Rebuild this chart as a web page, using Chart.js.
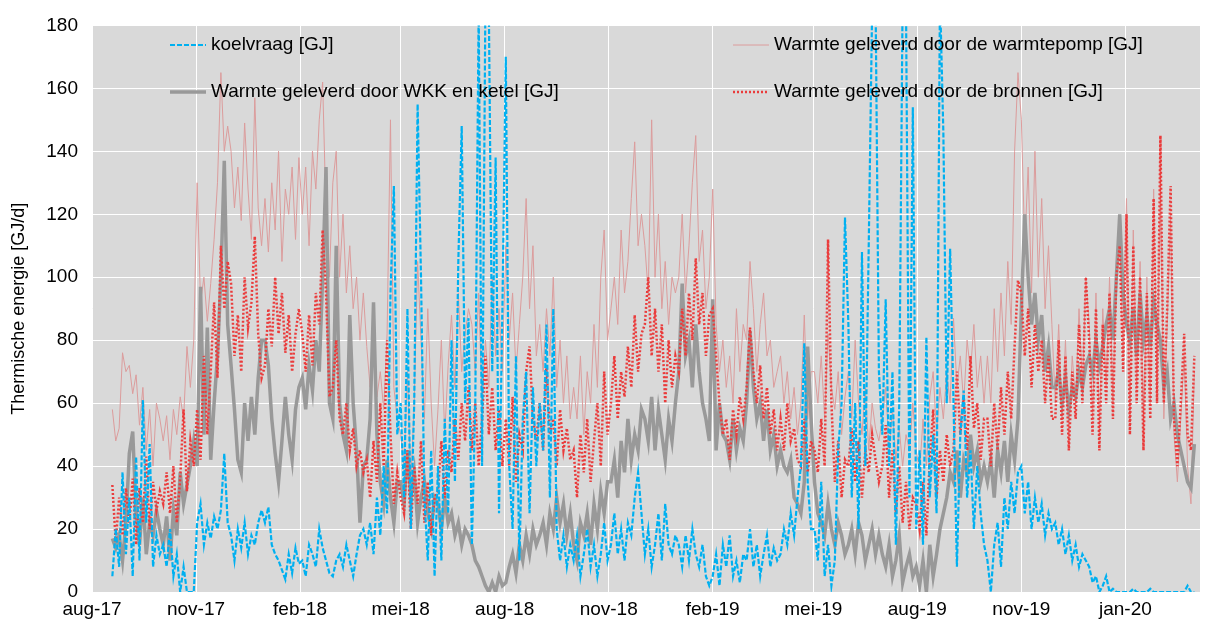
<!DOCTYPE html>
<html>
<head>
<meta charset="utf-8">
<script src="https://cdn.jsdelivr.net/npm/chart.js@4.4.1/dist/chart.umd.min.js"></script>
<style>
  html, body { margin: 0; padding: 0; background: #fff; }
  #wrap { width: 1206px; height: 622px; }
</style>
</head>
<body>
<div id="wrap"><canvas id="chart" width="1206" height="622"></canvas></div>
<script>
const startDay = 18;
const stepDays = 3;

const tickDays = [0, 92, 184, 273, 365, 457, 549, 638, 730, 822, 914];
const tickLabels = ['aug-17', 'nov-17', 'feb-18', 'mei-18', 'aug-18', 'nov-18', 'feb-19', 'mei-19', 'aug-19', 'nov-19', 'jan-20'];

const seriesNames = [
  'koelvraag [GJ]',
  'Warmte geleverd door de bronnen [GJ]',
  'Warmte geleverd door WKK en ketel [GJ]',
  'Warmte geleverd door de warmtepomp [GJ]'
];

// one row per month
const koelvraag = [
  5, 20, 8, 38, 12,
  30, 5, 43, 10, 61, 22, 47, 8, 18, 12,
  15, 8, 20, 5, 12, 0, 8, 0, 0, 0,
  22, 28, 15, 22, 17, 24, 20, 26, 44, 22,
  18, 10, 20, 14, 22, 12, 18, 15, 22, 26,
  22, 27, 15, 12, 10, 7, 4, 12, 6, 14, 9,
  10, 5, 15, 12, 8, 20, 14, 10, 6,
  5, 10, 12, 8, 15, 10, 5, 12, 18, 20,
  15, 22, 12, 30, 18, 40, 25, 95, 129, 50,
  60, 30, 90, 20, 60, 155, 100, 30, 10, 45, 5,
  40, 10, 55, 25, 80, 35, 105, 148, 60, 87,
  15, 60, 185, 40, 190, 185, 70, 138, 25, 90,
  170, 40, 20, 75, 10, 55, 70, 25, 65, 40,
  60, 45, 85, 30, 90, 20, 10, 18, 8, 15,
  10, 18, 5, 12, 20, 8, 15, 5, 12, 22, 10,
  15, 25, 12, 20, 10, 22, 18, 30, 38, 25,
  12, 20, 8, 15, 25, 10, 28, 15, 12, 18,
  15, 8, 18, 10, 20, 12, 8, 15, 5, 2,
  5, 12, 2, 15, 8, 18, 5, 10, 3, 12,
  10, 20, 8, 15, 5, 12, 18, 8, 14, 10,
  12, 20, 15, 25, 18, 30, 40, 79, 35, 20,
  20, 10, 35, 5, 15, 2, 10, 45, 60, 119,
  85, 30, 60, 20, 108, 40, 110, 185, 190, 70,
  50, 93, 40, 70, 15, 60, 190, 185, 30, 154,
  20, 45, 15, 81, 30, 50, 25, 190, 146, 60, 109,
  60, 8, 50, 64, 30, 45, 20, 40, 25, 15,
  10, 0, 15, 22, 8, 30, 20, 35, 25, 38,
  40, 25, 35, 20, 30, 22, 28, 18, 25, 20,
  22, 15, 20, 12, 18, 10, 15, 8, 12, 10,
  8, 3, 5, 0, 2, 5, 0, 1, 0, 0, 0,
  0, 0, 1, 0, 0, 0, 0, 1, 0, 0,
  0, 0, 0, 0, 0, 0, 0, 0, 2, 0, 0
];

const bronnen = [
  34, 16, 30, 18, 33,
  22, 36, 15, 33, 22, 43, 20, 35, 26, 32,
  28, 38, 25, 40, 22, 36, 58, 32, 48, 40,
  58, 42, 75, 50, 70, 92, 68, 110, 90, 105,
  98, 75, 88, 70, 100, 84, 92, 113, 82, 68,
  72, 90, 78, 100, 82, 95, 76, 88, 70, 82, 90,
  82, 70, 88, 72, 95, 85, 115, 95, 62,
  65, 80, 55, 50, 60, 45, 52, 40, 45, 38,
  42, 30, 48, 35, 60, 40, 80, 50, 28, 38,
  30, 25, 45, 20, 40, 28, 48, 22, 35, 18, 30,
  32, 48, 30, 45, 38, 55, 42, 60, 48, 65,
  45, 60, 40, 55, 75, 50, 65, 45, 58, 40,
  55, 40, 62, 35, 50, 45, 70, 78, 55, 48,
  60, 45, 72, 50, 55, 40, 58, 45, 52, 42,
  45, 30, 50, 38, 55, 35, 48, 60, 40, 70, 50,
  60, 75, 55, 70, 62, 78, 65, 88, 70, 82,
  85, 100, 75, 90, 70, 85, 60, 80, 65, 75,
  70, 90, 75, 95, 80, 106, 85, 95, 75, 88,
  90, 75, 60, 50, 55, 42, 58, 50, 62, 55,
  65, 84, 70, 60, 72, 55, 65, 50, 58, 45,
  55, 45, 60, 48, 52, 42, 40, 55, 38, 48,
  45, 38, 55, 40, 112, 60, 35, 48, 30, 42,
  40, 52, 35, 48, 30, 45, 38, 50, 42, 35,
  40, 53, 30, 45, 25, 40, 22, 35, 20, 30,
  28, 20, 35, 18, 42, 58, 30, 45, 35, 50, 40,
  45, 70, 50, 62, 45, 75, 52, 60, 42, 55,
  55, 40, 60, 45, 65, 50, 70, 55, 78, 99,
  95, 75, 90, 65, 85, 70, 80, 60, 75, 55,
  55, 80, 50, 75, 45, 70, 55, 85, 60, 100,
  80, 50, 90, 45, 85, 60, 95, 55, 100, 110, 70,
  120, 50, 110, 60, 100, 45, 95, 55, 125, 60,
  145, 60, 90, 129, 55, 40, 60, 82, 50, 45, 75
];

const wkkKetel = [
  17, 14, 18, 10, 22,
  44, 51, 25, 15, 30, 12, 22, 18, 26, 20,
  15, 24, 10, 26, 18, 38, 28, 34, 40, 48,
  40, 97, 50, 84, 42, 60, 75, 100, 137, 85,
  72, 58, 42, 38, 60, 48, 62, 50, 68, 80,
  80, 72, 55, 44, 35, 48, 62, 50, 42, 58, 65,
  68, 58, 72, 64, 80, 70, 100, 135, 60,
  55, 110, 60, 50, 45, 88, 60, 45, 22, 40,
  42, 55, 92, 50, 35, 28, 42, 30, 22, 35,
  35, 28, 45, 30, 38, 22, 30, 35, 25, 20, 30,
  28, 20, 30, 22, 25, 18, 22, 15, 20, 18,
  15, 10, 8, 5, 2, 0, 3, 0, 5, 2,
  3, 8, 12, 6, 15, 10, 18, 12, 20, 15,
  18, 22, 15, 25, 20, 30, 22, 28, 18, 25,
  15, 10, 22, 18, 25, 15, 28, 20, 32, 25, 35,
  35, 42, 30, 48, 38, 55, 42, 50, 45, 58,
  55, 48, 62, 45, 58, 50, 42, 55, 48, 60,
  70, 98, 75, 80, 65, 85, 70, 60, 55, 48,
  93, 45, 60, 50, 48, 42, 55, 45, 52, 48,
  60, 83, 65, 55, 60, 48, 58, 45, 50, 40,
  45, 40, 38, 42, 30, 28, 25, 35, 78, 55,
  35, 25, 22, 18, 28, 20, 15, 22, 18, 12,
  15, 20, 12, 22, 18, 10, 15, 20, 12, 18,
  12, 8, 15, 5, 10, 18, 3, 8, 12, 5,
  8, 2, 10, 0, 15, 5, 12, 20, 25, 30, 38,
  35, 45, 30, 42, 38, 50, 40, 45, 35, 40,
  35, 42, 30, 45, 38, 48, 35, 50, 42, 55,
  90, 120, 100, 85, 95, 80, 88, 70, 78, 65,
  65, 70, 60, 68, 58, 65, 62, 70, 65, 72,
  75, 70, 80, 72, 78, 85, 90, 80, 100, 120, 95,
  85, 80, 90, 75, 95, 80, 88, 78, 92, 85,
  80, 65, 70, 55, 60, 50, 45, 40, 35, 33, 47
];

const warmtepomp = [
  58, 48, 52, 76, 70,
  72, 63, 69, 53, 65, 45, 58, 40, 60, 55,
  48, 56, 42, 58, 50, 62, 55, 78, 65, 80,
  130, 92, 100, 86, 98, 112, 130, 165, 140, 148,
  140, 122, 135, 118, 149, 128, 112, 157, 122, 110,
  125, 108, 130, 115, 140, 105, 128, 120, 135, 112, 138,
  120, 135, 110, 140, 128, 150, 162, 120, 100,
  130, 140, 100, 120, 95, 110, 90, 100, 80, 95,
  78, 65, 88, 62, 70, 58, 82, 150, 65, 55,
  50, 40, 70, 35, 60, 105, 80, 55, 90, 60, 40,
  58, 80, 50, 72, 88, 65, 95, 70, 82, 90,
  85, 70, 95, 60, 80, 65, 100, 75, 90, 70,
  110, 80, 95, 70, 85, 100, 125, 90, 110, 75,
  85, 70, 90, 75, 100, 65, 80, 60, 75, 55,
  65, 55, 75, 50, 70, 60, 85, 65, 100, 115, 80,
  90, 100, 85, 115, 95, 105, 125, 143, 110, 120,
  110, 95, 150, 100, 120, 90, 105, 85, 100, 95,
  100, 120, 95, 110, 130, 145, 105, 115, 90, 100,
  128, 85, 70, 80, 65, 75, 60, 90, 70, 85,
  80, 105, 90, 70, 85, 95, 75, 80, 65, 70,
  75, 60, 70, 55, 65, 50, 60, 88, 55, 70,
  70, 60, 75, 55, 82, 65, 58, 70, 50, 62,
  70, 55, 80, 60, 50, 65, 45, 60, 52, 48,
  55, 65, 45, 58, 42, 52, 40, 50, 45, 60,
  45, 38, 55, 40, 62, 70, 50, 65, 55, 70, 60,
  87, 65, 75, 60, 80, 70, 85, 65, 75, 60,
  75, 60, 90, 70, 95, 75, 105, 85, 140, 165,
  150, 110, 135, 95, 140, 100, 125, 90, 110, 85,
  60, 85, 55, 80, 50, 75, 60, 90, 65, 100,
  85, 55, 95, 50, 90, 65, 100, 60, 105, 115, 75,
  125, 55, 115, 65, 105, 50, 100, 60, 128, 65,
  135, 55, 85, 120, 50, 35, 55, 75, 40, 28, 70
];

const toPoints = arr => arr.map((v, i) => ({ x: startDay + i * stepDays, y: v }));

const fontFamily = '"Liberation Sans", Arial, sans-serif';

const plotBg = {
  id: 'plotBg',
  beforeDraw(chart) {
    const { ctx, chartArea: a } = chart;
    ctx.save();
    ctx.fillStyle = '#d9d9d9';
    ctx.fillRect(a.left, a.top, a.right - a.left, a.bottom - a.top);
    ctx.restore();
  }
};

// legend sits inside the plot, two columns
const insideLegend = {
  id: 'insideLegend',
  afterDraw(chart) {
    const ctx = chart.ctx;
    const spots = [
      { ds: 0, x: 170, y: 45 },
      { ds: 3, x: 733, y: 45 },
      { ds: 2, x: 170, y: 92 },
      { ds: 1, x: 733, y: 92 }
    ];
    ctx.save();
    ctx.font = '19px ' + fontFamily;
    ctx.textBaseline = 'middle';
    spots.forEach(s => {
      const d = chart.data.datasets[s.ds];
      ctx.beginPath();
      ctx.strokeStyle = d.borderColor;
      ctx.lineWidth = d.borderWidth;
      ctx.setLineDash(d.borderDash || []);
      ctx.moveTo(s.x, s.y);
      ctx.lineTo(s.x + 36, s.y);
      ctx.stroke();
      ctx.setLineDash([]);
      ctx.fillStyle = '#000';
      ctx.fillText(d.label, s.x + 41, s.y);
    });
    ctx.restore();
  }
};

new Chart(document.getElementById('chart'), {
  type: 'line',
  data: {
    datasets: [
      { label: seriesNames[0], data: toPoints(koelvraag), borderColor: '#00b0f0', borderWidth: 2.2, borderDash: [5, 2] },
      { label: seriesNames[1], data: toPoints(bronnen), borderColor: '#ea3c3c', borderWidth: 2.5, borderDash: [2, 2] },
      { label: seriesNames[2], data: toPoints(wkkKetel), borderColor: '#999999', borderWidth: 3.5 },
      { label: seriesNames[3], data: toPoints(warmtepomp), borderColor: '#dc9c9c', borderWidth: 1 }
    ]
  },
  options: {
    responsive: false,
    devicePixelRatio: 1,
    animation: false,
    clip: 0,
    elements: { point: { radius: 0 }, line: { tension: 0 } },
    layout: { padding: { top: 22, right: 6, left: 0, bottom: 0 } },
    plugins: { legend: { display: false }, tooltip: { enabled: false } },
    scales: {
      x: {
        type: 'linear',
        min: 0,
        max: 980,
        afterBuildTicks: axis => { axis.ticks = tickDays.map(v => ({ value: v })); },
        afterFit: s => { s.height = 30; },
        grid: { color: '#ffffff', lineWidth: 1, drawTicks: false },
        border: { display: false },
        ticks: {
          autoSkip: false,
          maxRotation: 0,
          padding: 6,
          color: '#000',
          font: { family: fontFamily, size: 19 },
          callback: v => tickLabels[tickDays.indexOf(v)]
        }
      },
      y: {
        min: 0,
        max: 180,
        afterFit: s => { s.width = 92; },
        grid: { color: '#ffffff', lineWidth: 1, drawTicks: false },
        border: { display: false },
        ticks: { stepSize: 20, padding: 14, color: '#000', font: { family: fontFamily, size: 19 } },
        title: { display: true, text: 'Thermische energie [GJ/d]', color: '#000', font: { family: fontFamily, size: 18 }, padding: { top: 8 } }
      }
    }
  },
  plugins: [plotBg, insideLegend]
});
</script>
</body>
</html>
